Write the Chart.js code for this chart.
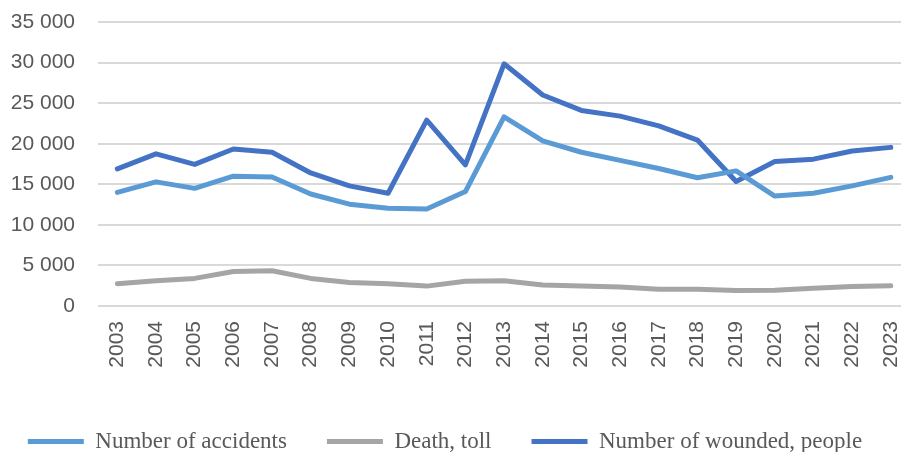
<!DOCTYPE html>
<html>
<head>
<meta charset="utf-8">
<script src="https://cdn.jsdelivr.net/npm/chart.js@4/dist/chart.umd.min.js"></script>
<style>
  html, body { margin: 0; padding: 0; width: 901px; height: 452px; overflow: hidden; background: #ffffff; }
  #wrap { position: relative; width: 916px; height: 452px; }
</style>
</head>
<body>
<div id="wrap"><canvas id="c"></canvas></div>
<script>
const years = ['2003','2004','2005','2006','2007','2008','2009','2010','2011','2012','2013','2014','2015','2016','2017','2018','2019','2020','2021','2022','2023'];
const accidents = [14000, 15300, 14500, 16000, 15900, 13800, 12550, 12050, 11950, 14100, 23300, 20350, 18950, 17950, 16950, 15800, 16650, 13550, 13900, 14800, 15850];
const deaths = [2750, 3100, 3400, 4250, 4350, 3400, 2900, 2750, 2450, 3050, 3100, 2600, 2450, 2350, 2050, 2050, 1900, 1950, 2200, 2400, 2500];
const wounded = [16900, 18750, 17450, 19350, 18950, 16400, 14800, 13900, 22900, 17400, 29850, 26000, 24100, 23400, 22200, 20450, 15350, 17800, 18100, 19100, 19550];
const yTicks = [0, 5000, 10000, 15000, 20000, 25000, 30000, 35000];
const seriesNames = ['Number of accidents', 'Death, toll', 'Number of wounded, people'];

const PAD_LEFT = -26, PAD_BOTTOM = -11, PAD_TOP = 22;
const fmt = v => String(v).replace(/\B(?=(\d{3})+(?!\d))/g, ' ');

new Chart(document.getElementById('c'), {
  type: 'line',
  data: {
    labels: years,
    datasets: [
      { label: seriesNames[0], data: accidents, borderColor: '#5B9BD5', backgroundColor: '#5B9BD5' },
      { label: seriesNames[1], data: deaths, borderColor: '#A5A5A5', backgroundColor: '#A5A5A5' },
      { label: seriesNames[2], data: wounded, borderColor: '#4472C4', backgroundColor: '#4472C4' }
    ]
  },
  options: {
    responsive: true,
    maintainAspectRatio: false,
    animation: false,
    devicePixelRatio: 1,
    layout: { padding: { top: PAD_TOP, left: PAD_LEFT, right: 0, bottom: PAD_BOTTOM } },
    elements: {
      line: { borderWidth: 5, tension: 0, borderJoinStyle: 'round', borderCapStyle: 'round', fill: false },
      point: { radius: 0, hoverRadius: 0 }
    },
    plugins: {
      tooltip: { enabled: false },
      legend: {
        position: 'bottom',
        labels: {
          boxWidth: 56,
          boxHeight: 5,
          padding: 40,
          color: '#595959',
          font: { family: '"Liberation Serif", "Times New Roman", serif', size: 23 },
          generateLabels(chart) {
            return chart.data.datasets.map((ds, i) => ({
              text: ds.label, fillStyle: ds.borderColor, strokeStyle: ds.borderColor,
              lineWidth: 0, hidden: false, datasetIndex: i, fontColor: '#595959'
            }));
          }
        }
      }
    },
    scales: {
      x: {
        offset: true,
        grid: { display: true, drawOnChartArea: false, drawTicks: true, tickLength: 15, color: 'rgba(0,0,0,0)', tickColor: 'rgba(0,0,0,0)' },
        border: { display: false },
        ticks: {
          minRotation: 90, maxRotation: 90, autoSkip: false, padding: 0,
          color: '#595959',
          font: { family: '"Liberation Sans", Arial, sans-serif', size: 21 }
        },
        afterFit(scale) {
          const lg = scale.chart.legend ? scale.chart.legend.height : 0;
          scale.height = scale.chart.height - 306 - lg - PAD_BOTTOM;
        }
      },
      y: {
        min: 0, max: 35000,
        afterBuildTicks(scale) { scale.ticks = yTicks.map(v => ({ value: v })); },
        grid: { color: '#D9D9D9', lineWidth: 2, drawTicks: true, tickLength: 23, tickColor: 'rgba(0,0,0,0)' },
        border: { display: false },
        ticks: {
          padding: 0,
          color: '#595959',
          font: { family: '"Liberation Sans", Arial, sans-serif', size: 21 },
          callback: v => fmt(v)
        },
        afterFit(scale) { scale.width = 98 - PAD_LEFT; }
      }
    }
  }
});
</script>
</body>
</html>
